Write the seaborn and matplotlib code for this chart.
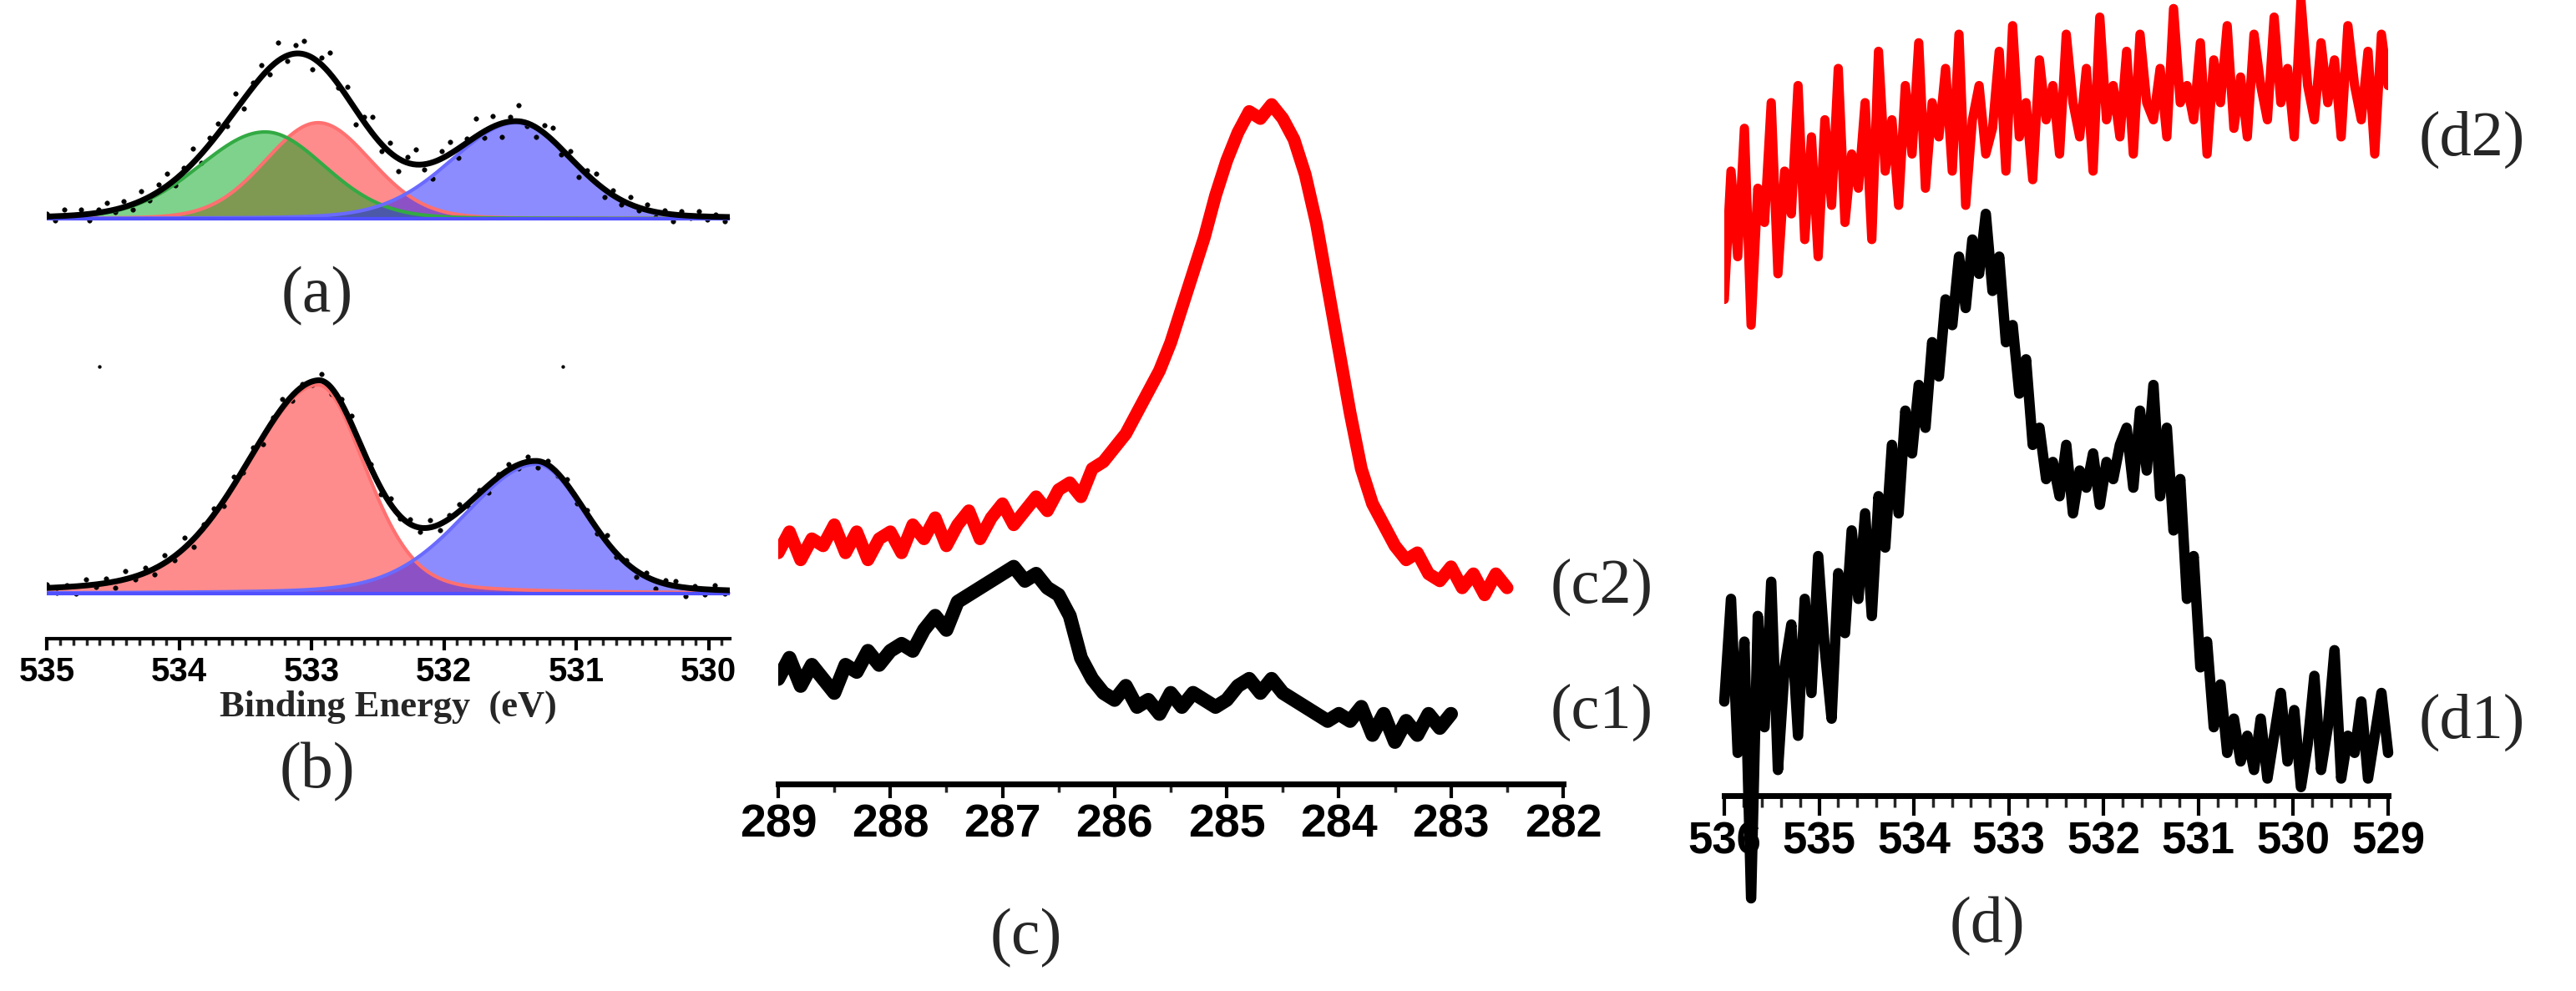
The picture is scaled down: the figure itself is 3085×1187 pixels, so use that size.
import numpy as np
import pandas as pd
import matplotlib
matplotlib.use("Agg")
import matplotlib.pyplot as plt
import seaborn as sns
from matplotlib.ticker import MultipleLocator

sns.set_theme(style="white")

# ---------------- data ----------------
# fitted component parameters: center (eV), height, sigma_left, sigma_right, lorentz fraction
a_components = {"red": (532.95, 115, 0.40, 0.40, 0.10),
                "green": (533.35, 104, 0.50, 0.45, 0.10),
                "blue": (531.45, 115, 0.50, 0.42, 0.15)}
b_components = {"red": (532.95, 250, 0.55, 0.36, 0.25),
                "blue": (531.30, 155, 0.55, 0.38, 0.20)}
a_res = [3,-5,8,-2,6,-8,4,10,-3,7, -6,12,-4,9,15,-7,5,18,-10,8, 12,-5,20,-12,6,14,-8,22,-6,10,
         16,-14,8,25,-4,12,-18,6,20,-9, 11,-15,7,18,-6,-20,9,14,-11,5, 22,-8,13,-16,6,19,-4,-12,10,15,
         -7,8,-13,5,11,-9,6,-5,9,-3, 7,-6,4,-8,5,-2,6,-4,3,-5]
b_res = [4,-6,2,-9,7,-3,5,-8,10,-4, 6,-7,9,-5,12,-10,4,8,-6,11, -3,7,-9,5,10,-6,3,-4,8,-7,
         5,9,-6,4,-8,7,-3,6,-5,9, -7,4,8,-6,5,-9,3,7,-4,6, -8,5,-3,7,-5,4,-6,8,-4,3,
         -7,5,-9,4,6,-10,3,-6,5,-4]
c2 = [33,36,32,35,34,37,33,36,32,35, 36,33,37,35,38,34,37,39,35,38, 40,37,39,41,39,42,43,41,45,46,
      48,50,53,56,59,63,68,73,78,84, 89,93,96,95,97,95,92,87,80,71, 62,53,45,40,37,34,32,33,30,29,
      31,28,30,27,30,28]
c1 = [15,18,14,17,15,13,17,16,19,17, 19,20,19,22,24,22,26,27,28,29, 30,31,29,30,28,27,24,18,15,13,
      12,14,11,12,10,13,11,13,12,11, 12,14,15,13,15,13,12,11,10,9, 10,9,11,7,10,6,9,7,10,8, 10]
d1 = [18,30,12,25,-5,28,15,32,10,22, 27,14,30,19,35,24,16,33,26,38,
      30,40,28,42,36,48,40,52,47,55, 50,60,56,65,62,70,64,72,68,75,
      66,70,60,62,54,58,48,50,44,46, 42,48,40,45,43,47,41,46,44,48,
      50,43,52,45,55,42,50,38,44,30, 35,22,25,15,20,12,16,11,14,10,
      16,9,14,19,11,17,8,13,21,10, 15,24,9,14,12,18,9,14,19,12]
d2 = [65,80,70,85,62,78,74,88,68,80, 75,90,72,84,70,86,76,92,74,82, 78,88,72,94,80,86,76,90,82,95,
      78,88,84,92,80,96,76,86,90,82, 85,94,80,97,84,88,79,93,86,90, 82,96,88,84,92,80,98,86,90,84,
      94,82,96,88,86,92,84,99,88,90, 86,95,82,93,88,97,85,91,84,96, 90,86,98,88,92,84,100,90,86,95,
      88,93,84,97,90,86,94,82,96,90]

W, H = 3085, 1187
fig = plt.figure(figsize=(W/100, H/100), dpi=100)

def box(x0, y0, x1, y1):
    return fig.add_axes([x0/W, 1-y1/H, (x1-x0)/W, (y1-y0)/H])

def pv(x, c, h, sl, sr, eta):
    s = np.where(x > c, sl, sr)
    g = np.exp(-(x-c)**2/(2*s**2))
    hw = 1.1774*s
    l = 1/(1+((x-c)/hw)**2)
    return h*((1-eta)*g+eta*l)

fillc = {"green": (0, 0.65, 0.1, 0.5), "red": (1, 0.1, 0.1, 0.5), "blue": (0.1, 0.1, 1, 0.5)}
linec = {"green": "#33aa44", "red": "#ff7070", "blue": "#6a6aff"}

def xps_panel(ax, comps, res, base, ymax):
    xf = np.linspace(535, 529.84, 400)
    tot = np.zeros_like(xf) + base
    for k, p in comps.items():
        y = pv(xf, *p)
        ax.fill_between(xf, base, base+y, color=fillc[k], lw=0)
        sns.lineplot(x=xf, y=base+y, ax=ax, color=linec[k], lw=3)
        tot += y
    xs = np.linspace(535, 529.88, len(res))
    ts = base + sum(pv(xs, *p) for p in comps.values())
    sns.scatterplot(x=xs, y=ts+np.array(res), ax=ax, color="black", s=16, edgecolor=None)
    ax.plot(xf, np.full_like(xf, base), color="#5050ff", lw=3)
    sns.lineplot(x=xf, y=tot, ax=ax, color="black", lw=5)
    ax.set_xlim(535, 529.84)
    ax.set_ylim(0, ymax)

def style_axis(ax, major, minor, lmaj, lmin, lsize, spw):
    for s in ["top", "left", "right"]:
        ax.spines[s].set_visible(False)
    ax.spines["bottom"].set_linewidth(spw)
    ax.spines["bottom"].set_color("black")
    ax.set_yticks([])
    ax.xaxis.set_major_locator(MultipleLocator(major))
    ax.xaxis.set_minor_locator(MultipleLocator(minor))
    ax.tick_params(axis="x", which="major", direction="out", length=lmaj, width=3, bottom=True,
                   labelsize=lsize, pad=5, colors="black")
    ax.tick_params(axis="x", which="minor", direction="out", length=lmin, width=2.5, bottom=True)
    for t in ax.get_xticklabels():
        t.set_fontweight("bold"); t.set_family("Liberation Sans")

# panel a
axa = box(56, 10, 874, 270)
xps_panel(axa, a_components, a_res, 8, 260)
axa.axis("off")

# panel b
axb = box(56, 420, 874, 765)
xps_panel(axb, b_components, b_res, 54, 345)
sns.scatterplot(x=[534.6, 531.1], y=[326, 326], ax=axb, color="black", s=8, edgecolor=None)
style_axis(axb, 1, 0.1, 10, 6, 29, 3)
axb.set_xlabel("Binding Energy  (eV)", fontsize=32, fontweight="bold", family="Liberation Serif", labelpad=2)
axb.set_ylabel("")

# panel c
axc = box(932, 100, 1872, 939)
sns.lineplot(x=np.linspace(289, 282.5, len(c2)), y=c2, ax=axc, color="#ff0000", lw=11)
sns.lineplot(x=np.linspace(289, 283.0, len(c1)), y=c1, ax=axc, color="black", lw=12)
axc.set_xlim(289, 282)
axc.set_ylim(0, 100)
style_axis(axc, 1, 0.5, 12, 7, 40, 5)

# panel d
axd = box(2065, 0, 2860, 953)
sns.lineplot(x=np.linspace(536, 529, len(d2)), y=d2, ax=axd, color="#ff0000", lw=8)
sns.lineplot(x=np.linspace(536, 529, len(d1)), y=d1, ax=axd, color="black", lw=9, clip_on=False)
axd.set_xlim(536, 529)
axd.set_ylim(7, 100)
style_axis(axd, 1, 0.2, 17, 10, 38, 5)

# labels
lab = dict(fontsize=56, family="Liberation Serif", ha="center", va="center")
fig.text(380/W, 1-355/H, "(a)", **lab)
fig.text(380/W, 1-925/H, "(b)", **lab)
fig.text(1229/W, 1-1124/H, "(c)", **lab)
fig.text(2380/W, 1-1110/H, "(d)", **lab)
sub = dict(fontsize=55, family="Liberation Serif", ha="center", va="center")
fig.text(1918/W, 1-703/H, "(c2)", **sub)
fig.text(1918/W, 1-853/H, "(c1)", **sub)
fig.text(2960/W, 1-167/H, "(d2)", **sub)
fig.text(2960/W, 1-865/H, "(d1)", **sub)

fig.savefig("out.png", dpi=100)
